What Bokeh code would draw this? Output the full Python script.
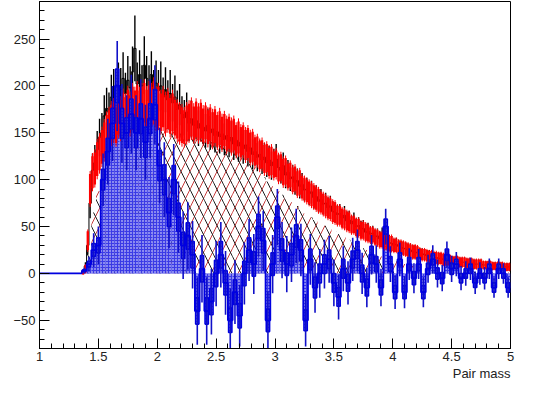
from bokeh.plotting import figure
from bokeh.models import Range1d, SingleIntervalTicker, Title, CustomJSTickFormatter
from bokeh.embed import file_html
from bokeh.resources import INLINE

X_MIN, X_MAX = 1.0, 5.0
Y_MIN, Y_MAX = -80, 290
FINE_W = 0.02     # bin width of black / red histograms
COARSE_W = 0.04   # bin width of blue / hatched histograms

# ---- black histogram (0.02 bins from 1.00) ----
black_vals = [0] * 18 + [
    2, 8, 30, 75, 110, 118, 132, 145, 150, 168,
    176, 172, 188, 195, 185, 200, 196, 208, 192, 206,
    198, 215, 240, 202, 212, 200, 222, 208, 200, 212,
    196, 203, 195, 200, 188, 196, 185, 192, 182, 188,
    175, 180, 170, 166, 172, 160, 165, 158, 163, 155,
    160, 156, 152, 158, 150, 154, 147, 151, 146, 149,
    143, 147, 141, 145, 138, 142, 136, 140, 133, 137,
    130, 134, 127, 130, 124, 127, 121, 124, 118, 121,
    115, 119, 122, 113, 110, 115, 105, 108, 101, 103,
    97, 99, 93, 95, 89, 90, 85, 87, 81, 82,
    77, 79, 74, 75, 70, 72, 66, 65, 63, 64,
    59, 62, 56, 57, 53, 56, 50, 51, 47, 48,
    44, 45, 42, 43, 39, 40, 37, 41, 35, 36,
    33, 32, 30, 31, 29, 28, 27, 26, 25, 25,
    23, 23, 22, 21, 21, 20, 19, 19, 18, 17,
    17, 16, 16, 15, 15, 14, 14, 13, 13, 13,
    12, 12, 12, 11, 11, 11, 10, 10, 10, 10,
    9, 9, 9, 9, 8, 8, 8, 8, 8, 7,
    7, 7]
black_errs = [0] * 18 + [
    1, 4, 10, 16, 18, 19, 20, 20, 21, 22,
    22, 21, 24, 23, 22, 25, 23, 28, 22, 26,
    23, 27, 35, 23, 26, 22, 31, 24, 22, 25,
    21, 24, 22, 26, 21, 24, 21, 25, 20, 23,
    20, 22, 19, 19, 21, 19, 20, 19, 20, 19,
    19, 18, 18, 18, 18, 18, 18, 17, 18, 17,
    17, 17, 17, 17, 17, 16, 17, 16, 16, 16,
    16, 16, 16, 15, 15, 15, 15, 15, 15, 15,
    15, 14, 16, 14, 14, 14, 14, 13, 13, 13,
    13, 13, 13, 12, 12, 12, 12, 12, 12, 12,
    12, 11, 11, 11, 11, 11, 11, 11, 10, 10,
    10, 10, 10, 10, 9, 9, 9, 9, 9, 9,
    9, 9, 8, 8, 8, 8, 8, 8, 8, 8,
    8, 8, 7, 7, 7, 7, 7, 7, 7, 7,
    7, 7, 7, 6, 6, 6, 6, 6, 6, 6,
    6, 6, 6, 6, 6, 5, 5, 5, 5, 5,
    5, 5, 5, 5, 5, 5, 5, 5, 5, 5,
    4, 4, 4, 4, 4, 4, 4, 4, 4, 4,
    4, 4]

# ---- red histogram (0.02 bins from 1.00) ----
red_vals = [0] * 18 + [
    0, 5, 35, 90, 108, 112, 122, 128, 135, 142,
    150, 155, 160, 163, 158, 168, 165, 172, 168, 175,
    170, 178, 174, 180, 175, 178, 182, 176, 180, 178,
    184, 176, 178, 172, 176, 170, 174, 168, 172, 166,
    163, 160, 158, 156, 160, 162, 165, 160, 164, 160,
    163, 158, 161, 156, 159, 154, 157, 152, 155, 150,
    153, 148, 150, 146, 148, 142, 145, 140, 142, 137,
    139, 134, 135, 130, 131, 126, 127, 122, 123, 119,
    120, 116, 117, 112, 113, 108, 109, 104, 105, 100,
    101, 96, 97, 92, 90, 88, 86, 84, 82, 80,
    78, 76, 74, 72, 70, 69, 66, 65, 62, 62,
    59, 58, 56, 55, 52, 52, 49, 49, 46, 46,
    44, 43, 41, 41, 39, 38, 36, 36, 34, 34,
    32, 32, 30, 30, 28, 28, 27, 26, 25, 24,
    23, 23, 22, 21, 20, 20, 19, 18, 18, 17,
    17, 16, 16, 15, 15, 14, 14, 13, 13, 13,
    12, 12, 12, 11, 11, 11, 10, 10, 10, 10,
    9, 9, 9, 9, 8, 8, 8, 8, 8, 7,
    7, 7]
red_errs = [0] * 18 + [
    1, 4, 10, 16, 17, 17, 18, 18, 18, 19,
    19, 19, 20, 20, 19, 20, 20, 21, 20, 21,
    20, 21, 21, 21, 20, 21, 21, 20, 21, 21,
    21, 20, 21, 20, 20, 20, 20, 19, 20, 19,
    19, 19, 19, 18, 19, 19, 19, 18, 19, 18,
    19, 18, 18, 18, 18, 18, 18, 17, 18, 17,
    17, 17, 17, 17, 17, 16, 17, 16, 16, 16,
    16, 16, 16, 15, 15, 15, 15, 15, 15, 15,
    15, 14, 14, 14, 14, 14, 14, 13, 13, 13,
    13, 13, 13, 12, 12, 12, 12, 12, 12, 12,
    12, 11, 11, 11, 11, 11, 11, 11, 10, 10,
    10, 10, 10, 10, 9, 9, 9, 9, 9, 9,
    9, 9, 8, 8, 8, 8, 8, 8, 8, 8,
    8, 8, 7, 7, 7, 7, 7, 7, 7, 7,
    7, 7, 7, 6, 6, 6, 6, 6, 6, 6,
    6, 6, 6, 6, 6, 5, 5, 5, 5, 5,
    5, 5, 5, 5, 5, 5, 5, 5, 5, 5,
    4, 4, 4, 4, 4, 4, 4, 4, 4, 4,
    4, 4]

# ---- hatched background histogram (0.04 bins from 1.00) ----
bg_vals = [0] * 9 + [
    3, 25, 65, 88, 102, 114, 124, 132, 138, 143,
    147, 150, 152, 154, 155, 156, 156, 155, 154, 152,
    150, 148, 146, 144, 143, 142, 141, 140, 138, 136,
    134, 131, 128, 125, 121, 117, 113, 108, 103, 98,
    93, 88, 84, 80, 76, 72, 68, 64, 60, 57,
    54, 51, 48, 45, 42, 39, 36, 33, 30, 27,
    25, 22, 20, 18, 16, 14, 13, 11, 10, 9,
    8, 7, 6, 5, 5, 4, 4, 3, 3, 3,
    2, 2, 2, 2, 1, 1, 1, 1, 1, 1,
    1]

# ---- blue (signal) histogram (0.04 bins from 1.00) ----
blue_vals = [0] * 9 + [
    3, 10, 25, 30, 100, 130, 160, 200, 160, 150,
    170, 150, 165, 140, 165, 180, 115, 100, 65, 100,
    60, 30, 40, 20, -40, 5, -40, -30, 0, 20,
    -10, -50, -20, -45, 0, 25, 10, 50, 35, -50,
    10, 60, 25, 10, 20, 40, 25, -50, 15, -15,
    0, 10, 15, -10, -25, 5, -10, 15, 25, 0,
    -15, 20, 10, -15, 50, 10, -20, 15, -20, 10,
    -5, 10, -20, 5, 15, 0, -5, 20, 5, 10,
    -5, 0, 5, -10, 0, -5, 5, -15, 5, 0,
    -15]
blue_errs = [0] * 9 + [
    3, 8, 18, 20, 28, 35, 40, 48, 42, 40,
    42, 40, 42, 40, 42, 42, 40, 40, 38, 38,
    38, 36, 36, 36, 36, 36, 36, 35, 35, 35,
    34, 34, 34, 33, 33, 33, 32, 32, 32, 31,
    31, 30, 30, 30, 29, 29, 28, 28, 27, 27,
    26, 26, 25, 25, 24, 24, 23, 23, 22, 22,
    21, 21, 20, 20, 19, 19, 18, 18, 17, 17,
    16, 16, 16, 15, 15, 15, 14, 14, 14, 13,
    13, 13, 12, 12, 12, 12, 11, 11, 11, 11,
    11]
blue_box_errs = [0] * 9 + [
    1, 3, 7, 8, 11, 14, 16, 18, 16, 16,
    16, 16, 16, 16, 16, 16, 16, 16, 15, 15,
    15, 14, 14, 14, 14, 14, 14, 14, 14, 14,
    13, 13, 13, 13, 13, 13, 13, 13, 13, 12,
    12, 12, 12, 12, 12, 12, 11, 11, 11, 11,
    10, 10, 10, 10, 10, 10, 9, 9, 9, 9,
    9, 9, 8, 8, 8, 8, 7, 7, 7, 7,
    7, 7, 7, 6, 6, 6, 6, 6, 6, 5,
    5, 5, 5, 5, 5, 5, 5, 5, 5, 5,
    5]

x_tick_step = 0.5
y_tick_step = 50
x_label = "Pair mass"

FONT = "Liberation Sans"


def edges(n, w):
    left = [X_MIN + i * w for i in range(n)]
    right = [l + w for l in left]
    center = [l + w / 2 for l in left]
    return left, right, center


p = figure(width=517, height=380, output_backend="svg", toolbar_location=None,
           x_range=Range1d(X_MIN, X_MAX), y_range=Range1d(Y_MIN, Y_MAX),
           min_border_left=39, min_border_right=7, min_border_top=1, min_border_bottom=0,
           background_fill_color="white", border_fill_color="white")
p.xgrid.visible = False
p.ygrid.visible = False
p.outline_line_color = "black"
p.outline_line_width = 1

# hatched background
cl, cr, cc = edges(len(bg_vals), COARSE_W)
nz = [i for i, v in enumerate(bg_vals) if v > 0]
bg_left = [cl[i] for i in nz]
bg_right = [cr[i] for i in nz]
bg_top = [bg_vals[i] for i in nz]
p.quad(left=bg_left, right=bg_right, top=bg_top, bottom=[0] * len(nz),
       fill_color=None, line_color=None, hatch_pattern="/", hatch_color="#c83c3c",
       hatch_scale=18, hatch_weight=1)
p.quad(left=bg_left, right=bg_right, top=bg_top, bottom=[0] * len(nz),
       fill_color=None, line_color=None, hatch_pattern="\\", hatch_color="#202020",
       hatch_scale=18, hatch_weight=1)

# black histogram
fl, fr, fc = edges(len(black_vals), FINE_W)
p.segment(x0=fc, x1=fc, y0=[v - e for v, e in zip(black_vals, black_errs)],
          y1=[v + e for v, e in zip(black_vals, black_errs)], line_color="black", line_width=1.4)
p.step(x=fl + [X_MAX], y=black_vals + [black_vals[-1]], mode="after", line_color="black", line_width=1)

# blue fill (under red band)
blue_fill = "#3a3ae6"
bl, br, bc = edges(len(blue_vals), COARSE_W)
p.quad(left=bl, right=br, bottom=[0] * len(blue_vals), top=blue_vals,
       fill_color=blue_fill, line_color=None, hatch_pattern="dot", hatch_color="white",
       hatch_scale=3, hatch_weight=1.7)

# red histogram as error band
p.quad(left=fl, right=fr, bottom=[v - e for v, e in zip(red_vals, red_errs)],
       top=[v + e for v, e in zip(red_vals, red_errs)], fill_color="#ff0000", line_color=None)
p.segment(x0=fc, x1=fc, y0=[v - 1.2 * e for v, e in zip(red_vals, red_errs)],
          y1=[v + 1.2 * e for v, e in zip(red_vals, red_errs)], line_color="#ff0000", line_width=1)

# blue error boxes, error bars and outline
nzb = [i for i, v in enumerate(blue_errs) if v > 0]
p.quad(left=[bl[i] + 0.006 for i in nzb], right=[br[i] - 0.006 for i in nzb],
       bottom=[blue_vals[i] - blue_box_errs[i] for i in nzb],
       top=[blue_vals[i] + blue_box_errs[i] for i in nzb],
       fill_color=blue_fill, line_color="#0000e0", line_width=1.6,
       hatch_pattern="dot", hatch_color="white", hatch_scale=3, hatch_weight=1.7)
p.segment(x0=[bc[i] for i in nzb], x1=[bc[i] for i in nzb],
          y0=[blue_vals[i] - blue_errs[i] for i in nzb],
          y1=[blue_vals[i] + blue_errs[i] for i in nzb], line_color="#1010c8", line_width=1.6)
p.step(x=bl + [X_MAX], y=blue_vals + [blue_vals[-1]], mode="after", line_color="#0000e0", line_width=1.8)

# axes
for ax in (p.xaxis[0], p.yaxis[0]):
    ax.major_tick_in = 10
    ax.major_tick_out = 0
    ax.minor_tick_in = 5
    ax.minor_tick_out = 0
    ax.axis_line_color = "black"
    ax.major_tick_line_color = "black"
    ax.minor_tick_line_color = "black"
    ax.major_label_text_font = FONT
    ax.major_label_text_font_size = "13px"
    ax.major_label_text_color = "#222222"
p.xaxis.ticker = SingleIntervalTicker(interval=x_tick_step, num_minor_ticks=5)
p.yaxis.ticker = SingleIntervalTicker(interval=y_tick_step, num_minor_ticks=5)
p.xaxis.major_label_standoff = 3
p.yaxis.major_label_standoff = 4
p.yaxis.formatter = CustomJSTickFormatter(code="return tick < 0 ? '\u2212' + Math.abs(tick) : '' + tick;")

p.add_layout(Title(text=x_label, align="right", text_font=FONT, text_font_size="13px",
                   text_font_style="normal", text_color="#222222", standoff=0, offset=0),
             "below")

open("out.html", "w").write(file_html(p, INLINE))
